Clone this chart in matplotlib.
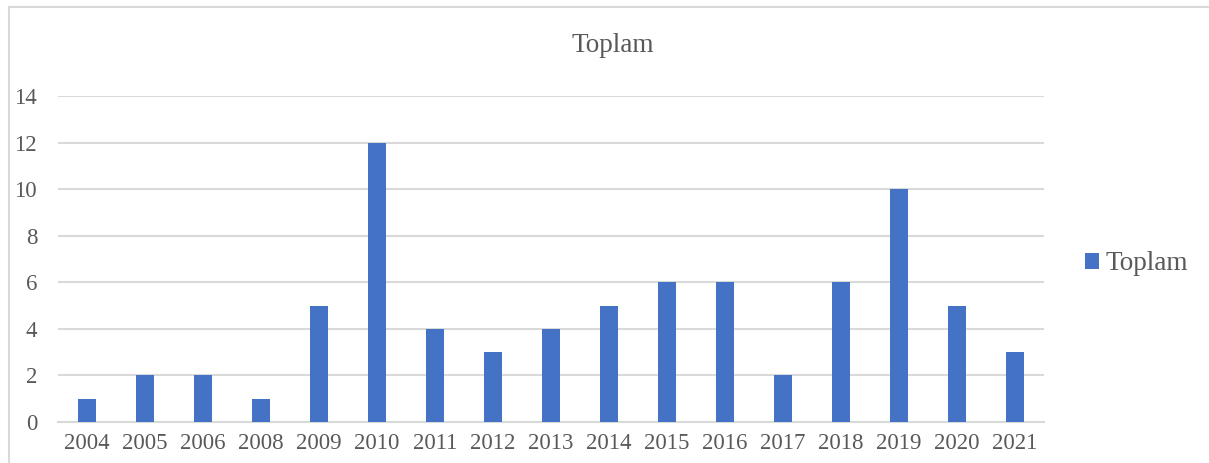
import matplotlib.pyplot as plt
from matplotlib.patches import Rectangle

years = ["2004", "2005", "2006", "2008", "2009", "2010", "2011", "2012", "2013",
         "2014", "2015", "2016", "2017", "2018", "2019", "2020", "2021"]
toplam = [1, 2, 2, 1, 5, 12, 4, 3, 4, 5, 6, 6, 2, 6, 10, 5, 3]
y_ticks = [0, 2, 4, 6, 8, 10, 12, 14]

BAR = "#4472C4"
TEXT = "#595959"
GRID = "#D9D9D9"

plt.rcParams["font.family"] = ["Liberation Serif", "DejaVu Serif"]

fig = plt.figure(figsize=(12.09, 4.63), dpi=100)
ax = fig.add_axes([58 / 1209, 1 - 422 / 463, (1044 - 58) / 1209, (422 - 96) / 463])

x = range(len(years))
ax.bar(x, toplam, width=0.31, color=BAR, label="Toplam", zorder=3)

ax.set_xlim(-0.5, len(years) - 0.5)
ax.set_ylim(0, 14)
ax.set_yticks(y_ticks)
ax.set_xticks(list(x))
ax.set_xticklabels(years)
ax.tick_params(axis="both", length=0, labelsize=16.5, colors=TEXT)
ax.tick_params(axis="y", pad=15)
ax.tick_params(axis="x", pad=8)
ax.grid(axis="y", color=GRID, linewidth=1.5, zorder=0)
for side in ("top", "right", "left"):
    ax.spines[side].set_visible(False)
ax.spines["bottom"].set_color(GRID)
ax.spines["bottom"].set_linewidth(1.5)

fig.text(613 / 1209, 1 - 45 / 463, "Toplam", ha="center", va="center",
         fontsize=19.5, color=TEXT)

leg = fig.legend(loc="center left", bbox_to_anchor=(1085 / 1209, 1 - 264 / 463),
                 frameon=False, fontsize=19.5, handlelength=0.52, handleheight=0.52,
                 handletextpad=0.25, borderpad=0, borderaxespad=0)
for t in leg.get_texts():
    t.set_color(TEXT)

# chart frame
fig.patches.append(Rectangle((9 / 1209, -0.1), 1.2, 1 - 7 / 463 + 0.1,
                             transform=fig.transFigure, fill=False,
                             edgecolor=GRID, linewidth=1.5))

fig.savefig("out.png", dpi=100)
